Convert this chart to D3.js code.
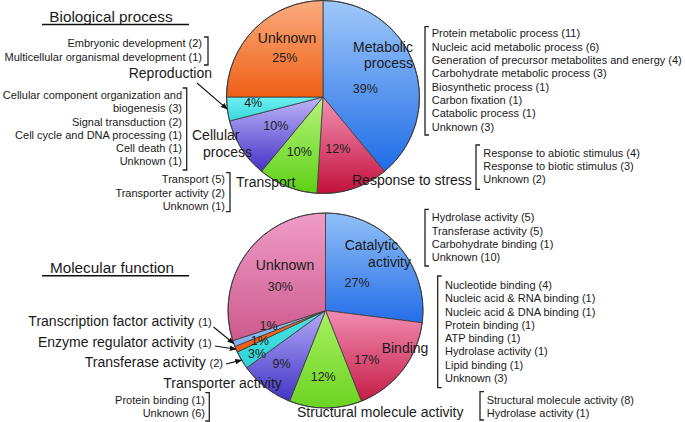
<!DOCTYPE html>
<html>
<head>
<meta charset="utf-8">
<script src="https://cdn.jsdelivr.net/npm/d3@7"></script>
<style>
  html, body { margin: 0; padding: 0; background: #fff; }
  svg { display: block; font-family: "Liberation Sans", Arial, sans-serif; }
</style>
</head>
<body>
<svg id="chart" width="685" height="422"></svg>
<script>
// ---------------- DATA ----------------
const bpCategories = ["Metabolic process", "Response to stress", "Transport", "Cellular process", "Reproduction", "Unknown"];
const bpValues = [39, 12, 10, 10, 4, 25];

const mfCategories = ["Catalytic activity", "Binding", "Structural molecule activity", "Transporter activity",
  "Transferase activity", "Enzyme regulator activity", "Transcription factor activity", "Unknown"];
const mfValues = [27, 17, 12, 9, 3, 1, 1, 30];

const bpMetabolicList = ["Protein metabolic process (11)", "Nucleic acid metabolic process (6)",
  "Generation of precursor metabolites and energy (4)", "Carbohydrate metabolic process (3)",
  "Biosynthetic process (1)", "Carbon fixation (1)", "Catabolic process (1)", "Unknown (3)"];
const bpStressList = ["Response to abiotic stimulus (4)", "Response to biotic stimulus (3)", "Unknown (2)"];
const bpTransportList = ["Transport (5)", "Transporter activity (2)", "Unknown (1)"];
const bpCellularList = ["Cellular component organization and", "biogenesis (3)", "Signal transduction (2)",
  "Cell cycle and DNA processing (1)", "Cell death (1)", "Unknown (1)"];
const bpReproList = ["Embryonic development (2)", "Multicellular organismal development (1)"];

const mfCatalyticList = ["Hydrolase activity (5)", "Transferase activity (5)", "Carbohydrate binding (1)", "Unknown (10)"];
const mfBindingList = ["Nucleotide binding (4)", "Nucleic acid & RNA binding (1)", "Nucleic acid & DNA binding (1)",
  "Protein binding (1)", "ATP binding (1)", "Hydrolase activity (1)", "Lipid binding (1)", "Unknown (3)"];
const mfStructuralList = ["Structural molecule activity (8)", "Hydrolase activity (1)"];
const mfTransporterList = ["Protein binding (1)", "Unknown (6)"];

// ---------------- STYLE / LAYOUT ----------------
const bpColors = [["#a0c8fa", "#1e6ce6"], ["#f492b6", "#c2103c"], ["#b6f47c", "#5ed016"],
  ["#beb6fa", "#4632c6"], ["#70f0f2", "#38d6da"], ["#fbab7e", "#ee6016"]];
const mfColors = [["#92c0f8", "#256ee8"], ["#f28cb2", "#c41c46"], ["#a8f060", "#6cd422"],
  ["#b0aaf6", "#4434c6"], ["#4ae4e4", "#30d2d4"], ["#f47428", "#ec5c12"],
  ["#98c0f8", "#80b0f2"], ["#f09cc8", "#cc5a8c"]];

const svg = d3.select("#chart");
const defs = svg.append("defs");
defs.append("marker").attr("id", "arrow").attr("viewBox", "0 0 10 10")
  .attr("refX", 9).attr("refY", 5).attr("markerWidth", 7).attr("markerHeight", 7)
  .attr("markerUnits", "userSpaceOnUse").attr("orient", "auto")
  .append("path").attr("d", "M0,1 L10,5 L0,9 Z").attr("fill", "#111");

const rad = deg => deg * Math.PI / 180;
const polar = (a, r) => [r * Math.sin(a), -r * Math.cos(a)];

function drawPie(id, cx, cy, R, values, colors, pctLayout) {
  const g = svg.append("g").attr("transform", `translate(${cx},${cy})`);
  const arcs = d3.pie().sort(null).value(d => d)(values);
  const arc = d3.arc().innerRadius(0).outerRadius(R);
  colors.forEach((c, i) => {
    const lg = defs.append("linearGradient").attr("id", `${id}g${i}`)
      .attr("x1", 0).attr("y1", 0).attr("x2", 0).attr("y2", 1);
    lg.append("stop").attr("offset", "0%").attr("stop-color", c[0]);
    lg.append("stop").attr("offset", "100%").attr("stop-color", c[1]);
  });
  g.selectAll("path.slice").data(arcs).join("path").attr("class", "slice")
    .attr("d", arc).attr("fill", (d, i) => `url(#${id}g${i})`)
    .attr("stroke", "#3a3a3a").attr("stroke-width", 0.8).attr("stroke-linejoin", "round");
  g.append("circle").attr("r", R).attr("fill", "none").attr("stroke", "#3a3a3a").attr("stroke-width", 0.9);
  g.selectAll("text.pct").data(arcs).join("text").attr("class", "pct")
    .attr("transform", (d, i) => {
      const L = pctLayout[i];
      const p = polar((d.startAngle + d.endAngle) / 2 + rad(L[0]), L[1]);
      return `translate(${p[0]},${p[1]})`;
    })
    .attr("text-anchor", "middle").attr("dy", "0.36em")
    .attr("font-size", 12.5).attr("fill", "#222")
    .text(d => d.data + "%");
  return { g, arcs, cx, cy, R };
}

const topPie = drawPie("bp", 323, 97, 96.5, bpValues, bpColors,
  [[9, 43], [2, 54], [2, 59], [1.6, 55], [3, 70], [1, 55]]);
const botPie = drawPie("mf", 325.5, 310.5, 97.5, mfValues, mfColors,
  [[0, 42], [12, 64], [2, 66], [1.7, 69], [-1.7, 81], [-0.8, 72], [4.6, 59], [-8.4, 51]]);

// ---------------- TEXT HELPERS ----------------
function label(x, y, txt, size, anchor) {
  return svg.append("text").attr("x", x).attr("y", y).attr("dy", "0.36em")
    .attr("font-size", size).attr("text-anchor", anchor || "start").attr("fill", "#1a1a1a").text(txt);
}
function list(x, y0, step, items, anchor) {
  items.forEach((t, i) => label(x, y0 + i * step, t, 11, anchor));
}
// bracket: side "right" => "]" (caps to left), "left" => "[" (caps to right)
function bracket(x, y1, y2, side) {
  const c = side === "right" ? -4 : 4;
  svg.append("path").attr("d", `M${x + c},${y1} H${x} V${y2} H${x + c}`)
    .attr("fill", "none").attr("stroke", "#222").attr("stroke-width", 1.3);
}
function arrowTo(pie, idx, x0, y0) {
  const d = pie.arcs[idx];
  const p = polar((d.startAngle + d.endAngle) / 2, pie.R);
  svg.append("line").attr("x1", x0).attr("y1", y0)
    .attr("x2", pie.cx + p[0]).attr("y2", pie.cy + p[1])
    .attr("stroke", "#111").attr("stroke-width", 1.1).attr("marker-end", "url(#arrow)");
}

// ---------------- TITLES ----------------
label(111, 16.5, "Biological process", 15.3, "middle");
svg.append("line").attr("x1", 42).attr("x2", 189).attr("y1", 24.5).attr("y2", 24.5).attr("stroke", "#111").attr("stroke-width", 1.4);
label(112, 267.5, "Molecular function", 15.3, "middle");
svg.append("line").attr("x1", 42).attr("x2", 189).attr("y1", 275.7).attr("y2", 275.7).attr("stroke", "#111").attr("stroke-width", 1.4);

// ---------------- TOP PIE LABELS ----------------
label(287, 38, "Unknown", 14, "middle");
label(383, 46.5, "Metabolic", 14, "middle");
label(388.5, 63, "process", 14, "middle");
label(352, 180, "Response to stress", 14);
label(236, 182, "Transport", 14);
label(192, 135, "Cellular", 14);
label(203, 152, "process", 14);
label(212, 73, "Reproduction", 14, "end");
arrowTo(topPie, 4, 197, 83);

list(202, 43.3, 13.7, bpReproList, "end");
bracket(208, 37, 65, "right");
list(182, 95, 13.3, bpCellularList, "end");
bracket(186.7, 88, 170, "right");
list(225, 179.3, 13.35, bpTransportList, "end");
bracket(230, 172.7, 211.7, "right");
list(431.7, 33.3, 13.35, bpMetabolicList);
bracket(425, 26.7, 135, "left");
list(483.3, 152.7, 13.3, bpStressList);
bracket(476, 145, 189.3, "left");

// ---------------- BOTTOM PIE LABELS ----------------
label(285, 265, "Unknown", 14, "middle");
label(371.5, 245, "Catalytic", 14, "middle");
label(389.5, 262.3, "activity", 14, "middle");
label(405, 348.3, "Binding", 14, "middle");
label(297, 412, "Structural molecule activity", 14);
label(163.3, 382.5, "Transporter activity", 14);

function mixed(xEnd, y, big, small) {
  const t = svg.append("text").attr("x", xEnd).attr("y", y).attr("dy", "0.36em")
    .attr("text-anchor", "end").attr("fill", "#1a1a1a");
  t.append("tspan").attr("font-size", 14).text(big + " ");
  t.append("tspan").attr("font-size", 11).text(small);
}
mixed(211.7, 320.7, "Transcription factor activity", "(1)");
mixed(211.7, 341.7, "Enzyme regulator activity", "(1)");
mixed(223, 361.7, "Transferase activity", "(2)");
arrowTo(botPie, 6, 213.5, 327);
arrowTo(botPie, 5, 215, 346);
arrowTo(botPie, 4, 226, 364);

list(431.7, 217.3, 13.4, mfCatalyticList);
bracket(425, 209.3, 266, "left");
list(445, 285, 13.3, mfBindingList);
bracket(437.7, 276, 387.7, "left");
list(486.7, 400, 13.3, mfStructuralList);
bracket(480, 391.7, 420, "left");
list(205, 400, 12.7, mfTransporterList, "end");
bracket(209.3, 392.7, 421, "right");
</script>
</body>
</html>
